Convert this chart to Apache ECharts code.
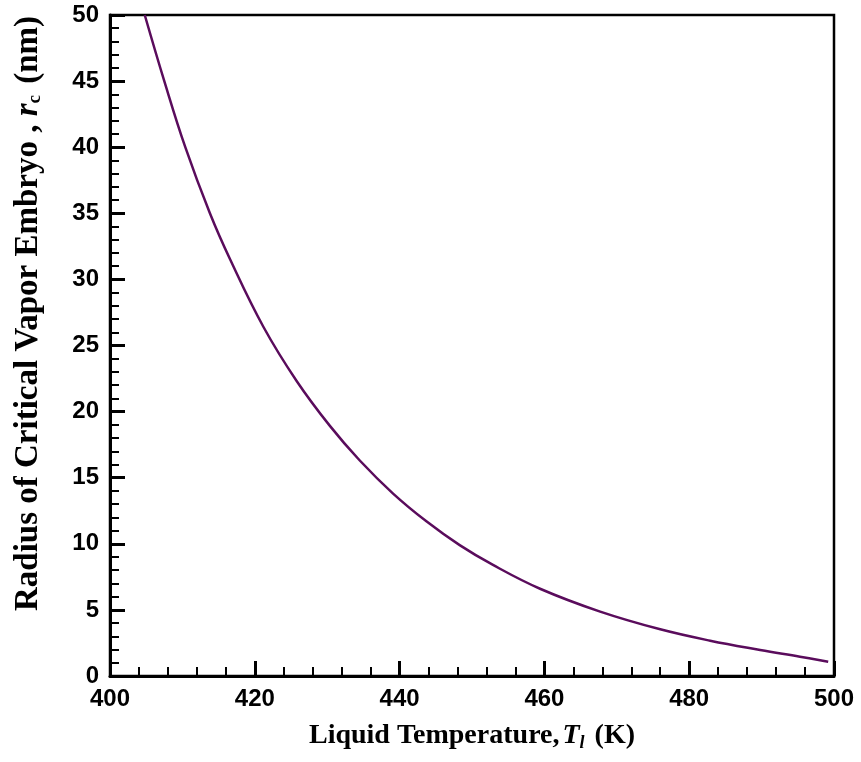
<!DOCTYPE html>
<html>
<head>
<meta charset="utf-8">
<script src="https://cdn.jsdelivr.net/npm/echarts@6/dist/echarts.min.js"></script>
<style>
  html, body { margin: 0; padding: 0; background: #fff; }
  #chart { width: 861px; height: 762px; }
</style>
</head>
<body>
<div id="chart"></div>
<script>
// values
var temperature = [404.8, 407.5, 410.4, 413.8, 416.6, 421.2, 425.8, 430.4, 434.5, 439.1, 443.7, 448.3, 452.9, 459.4, 467.7, 476.0, 482.9, 489.8, 495.3, 499.2];
var radius      = [50, 45, 40, 35, 31.5, 26.4, 22.3, 18.9, 16.3, 13.8, 11.7, 9.9, 8.4, 6.6, 4.87, 3.53, 2.67, 1.97, 1.46, 1.08];

var xTicks = { min: 400, max: 500, step: 20 };
var yTicks = { min: 0, max: 50, step: 5 };

var points = temperature.map(function (t, i) { return [t, radius[i]]; });

var chart = echarts.init(document.getElementById('chart'));

var tickFont = { fontFamily: 'Liberation Sans, Arial', fontWeight: 'bold', fontSize: 24, color: '#000' };
var serif = 'Liberation Serif, Times New Roman';

var option = {
  animation: false,
  grid: {
    left: 110, right: 27, top: 15, bottom: 86,
    show: true, borderColor: '#000', borderWidth: 2.5
  },
  xAxis: {
    type: 'value',
    min: xTicks.min, max: xTicks.max, interval: xTicks.step,
    axisLine: { lineStyle: { color: '#000', width: 3 } },
    axisTick: { inside: true, length: 15, lineStyle: { color: '#000', width: 3 } },
    minorTick: { show: true, splitNumber: 5, length: 9, lineStyle: { color: '#000', width: 2 } },
    splitLine: { show: false },
    axisLabel: Object.assign({ margin: 11 }, tickFont),
    name: '{b|Liquid Temperature,}{i|T}{s|l}{b| (K)}',
    nameLocation: 'middle',
    nameGap: 44,
    nameTextStyle: {
      rich: {
        b: { fontFamily: serif, fontWeight: 'bold', fontSize: 28, color: '#000' },
        i: { fontFamily: serif, fontWeight: 'bold', fontStyle: 'italic', fontSize: 28, color: '#000', padding: [0, 0, 0, 3] },
        s: { fontFamily: serif, fontWeight: 'bold', fontStyle: 'italic', fontSize: 18, color: '#000', padding: [14, 3, 0, 0] }
      }
    }
  },
  yAxis: {
    type: 'value',
    min: yTicks.min, max: yTicks.max, interval: yTicks.step,
    axisLine: { lineStyle: { color: '#000', width: 3 } },
    axisTick: { inside: true, length: 15, lineStyle: { color: '#000', width: 3 } },
    minorTick: { show: true, splitNumber: 5, length: 9, lineStyle: { color: '#000', width: 2 } },
    splitLine: { show: false },
    axisLabel: Object.assign({ margin: 11 }, tickFont),
    name: '{b|Radius of Critical Vapor Embryo , }{i|r}{s|c}{b| (nm)}',
    nameLocation: 'middle',
    nameGap: 65,
    nameTextStyle: {
      padding: [0, 0, 0, 64],
      rich: {
        b: { fontFamily: serif, fontWeight: 'bold', fontSize: 33, color: '#000' },
        i: { fontFamily: serif, fontWeight: 'bold', fontStyle: 'italic', fontSize: 33, color: '#000' },
        s: { fontFamily: serif, fontWeight: 'bold', fontSize: 19, color: '#000', padding: [14, 3, 0, 0] }
      }
    }
  },
  series: [{
    type: 'line',
    data: points,
    smooth: 0.4,
    showSymbol: false,
    lineStyle: { color: '#5a0c5c', width: 2.5 }
  }]
};

chart.setOption(option);
</script>
</body>
</html>
